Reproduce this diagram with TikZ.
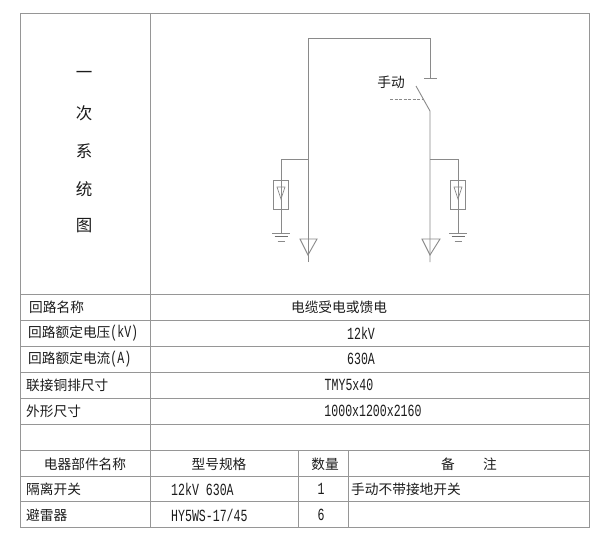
\documentclass[tikz,border=0pt]{standalone}
\usepackage{fontspec}
\setmainfont{Liberation Serif}
\newfontfamily\cjk{Noto Sans CJK SC}
\newfontfamily\lat[FakeStretch=0.68]{Liberation Mono}
\definecolor{ln}{HTML}{8A8A8A}
\definecolor{rl}{HTML}{969696}
\definecolor{tx}{HTML}{1C1C1C}
\newcommand{\zh}[1]{{\cjk\fontsize{13.7}{14}\selectfont #1}}
\newcommand{\la}[1]{{\lat\fontsize{17}{17}\selectfont #1}}
\tikzset{
  rule/.style={draw=rl,line width=1pt},
  wire/.style={draw=ln,line width=0.9pt},
  txt/.style={inner sep=0pt,text=tx},
  lefttxt/.style={txt,anchor=west},
  vert/.style={txt,font=\cjk\fontsize{16.5}{16.5}\selectfont},
}
\begin{document}
\begin{tikzpicture}[x=1pt,y=-1pt]
\useasboundingbox (0,0) rectangle (600,539);
\fill[white] (0,0) rectangle (600,539);
% table
\draw[rule] (20,13) rectangle (589,527);
\foreach \y in {294,320,346,372,398,424,450,476,501} \draw[rule] (20,\y) -- (589,\y);
\draw[rule] (150,13) -- (150,527);
\draw[rule] (298,450) -- (298,527);
\draw[rule] (348,450) -- (348,527);
% left title
\node[vert] (t1) at (84,75) {一};
\node[vert] (t2) at (84,113) {次};
\node[vert] (t3) at (84,151) {系};
\node[vert] (t4) at (84,189) {统};
\node[vert] (t5) at (84,226) {图};
% rows
\node[lefttxt] (a1) at (29,307) {\zh{回路名称}};
\node[lefttxt] (a2) at (28,333) {\zh{回路额定电压}\la{(kV)}};
\node[lefttxt] (a3) at (28,359) {\zh{回路额定电流}\la{(A)}};
\node[lefttxt] (a4) at (26,385) {\zh{联接铜排尺寸}};
\node[lefttxt] (a5) at (26,411) {\zh{外形尺寸}};
\node[txt] (b1) at (339,307) {\zh{电缆受电或馈电}};
\node[txt] (b2) at (361,333) {\la{12kV}};
\node[txt] (b3) at (361,359) {\la{630A}};
\node[txt] (b4) at (349,385) {\la{TMY5x40}};
\node[txt] (b5) at (373,411) {\la{1000x1200x2160}};
\node[txt] (h1) at (85,464) {\zh{电器部件名称}};
\node[txt] (h2) at (219,464) {\zh{型号规格}};
\node[txt] (h3) at (325,464) {\zh{数量}};
\node[txt] (h4a) at (448,464) {\zh{备}};
\node[txt] (h4b) at (490,464) {\zh{注}};
\node[lefttxt] (c1) at (26,489) {\zh{隔离开关}};
\node[lefttxt] (c2) at (171,489) {\la{12kV 630A}};
\node[txt] (c3) at (321,489) {\la{1}};
\node[lefttxt] (c4) at (351,489) {\zh{手动不带接地开关}};
\node[lefttxt] (d1) at (26,515) {\zh{避雷器}};
\node[lefttxt] (d2) at (171,515) {\la{HY5WS-17/45}};
\node[txt] (d3) at (321,515) {\la{6}};
% schematic
\node[txt] (sw) at (391,82) {\zh{手动}};
\coordinate (lb) at (308,262);
\coordinate (lt) at (308,38);
\coordinate (rt) at (430,38);
\coordinate (rc) at (430,78);
\coordinate (cl) at (424,78);
\coordinate (cr) at (437,78);
\coordinate (bt) at (416,86);
\coordinate (bb) at (430,111);
\coordinate (rb) at (430,262);
\coordinate (dl) at (390,99);
\coordinate (dr) at (424,99);
\draw[wire] (lb) -- (lt) -- (rt) -- (rc);
\draw[wire] (cl) -- (cr);
\draw[wire] (bt) -- (bb) -- (rb);
\draw[wire,dash pattern=on 3pt off 1.5pt,line width=0.6pt] (dl) -- (dr);
% left branch, right branch
\foreach \mx/\bx/\tl/\tr in {308/281/300/317, 430/458/422/440}{
  \draw[wire] (\tl,239) -- (\tr,239) -- (\mx,255) -- cycle;
  \draw[wire] (\mx,159) -- (\bx,159) -- (\bx,233);
  \draw[wire,fill=none] (\bx-7.3,180) rectangle (\bx+7.3,209);
  \draw[wire,line width=0.7pt] (\bx-4,187) -- (\bx+4,187) -- (\bx,199) -- cycle;
  \draw[wire] (\bx-9,233) -- (\bx+9,233);
  \draw[draw=ln!80!black,line width=1.6pt] (\bx-6.5,236.5) -- (\bx+6.5,236.5);
  \draw[wire,line width=0.7pt] (\bx-3.5,241) -- (\bx+3.5,241);
}
\end{tikzpicture}
\end{document}
